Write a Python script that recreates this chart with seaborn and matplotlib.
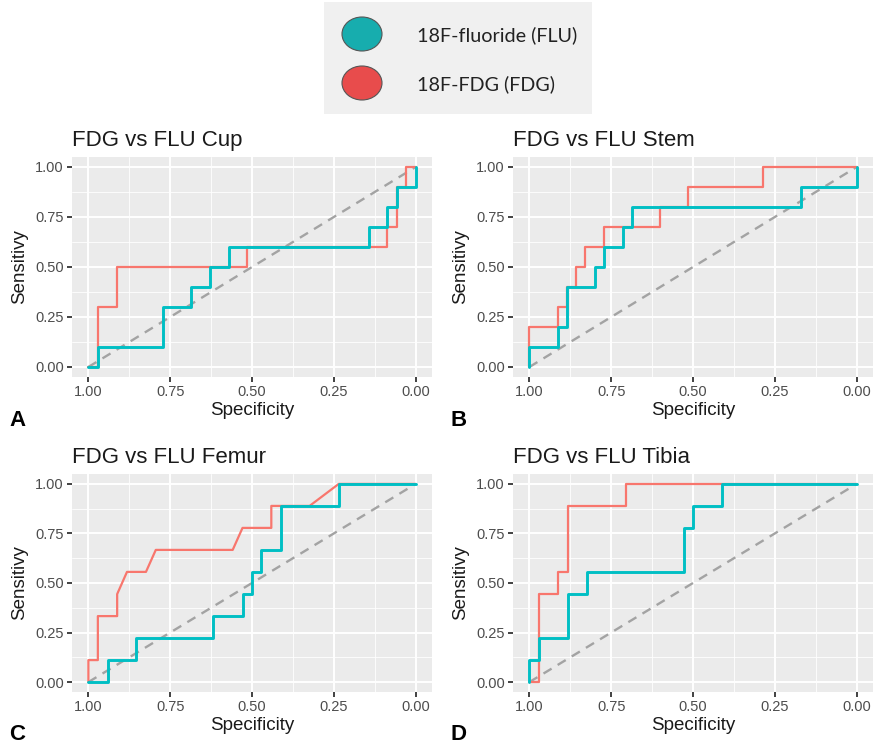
import matplotlib
matplotlib.use("Agg")
import matplotlib.pyplot as plt
from matplotlib.patches import Ellipse
import seaborn as sns
import numpy as np

# ---------------- data ----------------
titles = ["FDG vs FLU Cup", "FDG vs FLU Stem", "FDG vs FLU Femur", "FDG vs FLU Tibia"]
letters = ["A", "B", "C", "D"]
legend_labels = ["18F-fluoride (FLU)", "18F-FDG (FDG)"]
tick_values = [1.00, 0.75, 0.50, 0.25, 0.00]
tick_labels = ["1.00", "0.75", "0.50", "0.25", "0.00"]
ytick_values = [0.00, 0.25, 0.50, 0.75, 1.00]
ytick_labels = ["0.00", "0.25", "0.50", "0.75", "1.00"]
diag_spec = [1.0, 0.0]
diag_sens = [0.0, 1.0]

# Cup
cup_fdg_spec = [1, 0.971, 0.971, 0.914, 0.914, 0.514, 0.514, 0.086, 0.086, 0.057, 0.057, 0.029, 0.029, 0]
cup_fdg_sens = [0, 0, 0.3, 0.3, 0.5, 0.5, 0.6, 0.6, 0.7, 0.7, 0.9, 0.9, 1.0, 1.0]
cup_flu_spec = [1, 0.971, 0.971, 0.771, 0.771, 0.686, 0.686, 0.629, 0.629, 0.571, 0.571,
                0.143, 0.143, 0.086, 0.086, 0.057, 0.057, 0, 0]
cup_flu_sens = [0, 0, 0.1, 0.1, 0.3, 0.3, 0.4, 0.4, 0.5, 0.5, 0.6, 0.6, 0.7, 0.7, 0.8, 0.8, 0.9, 0.9, 1.0]

# Stem
stem_fdg_spec = [1, 1, 0.914, 0.914, 0.886, 0.886, 0.857, 0.857, 0.829, 0.829, 0.771, 0.771,
                 0.6, 0.6, 0.514, 0.514, 0.286, 0.286, 0]
stem_fdg_sens = [0, 0.2, 0.2, 0.3, 0.3, 0.4, 0.4, 0.5, 0.5, 0.6, 0.6, 0.7, 0.7, 0.8, 0.8, 0.9, 0.9, 1.0, 1.0]
stem_flu_spec = [1, 1, 0.914, 0.914, 0.886, 0.886, 0.8, 0.8, 0.771, 0.771, 0.714, 0.714,
                 0.686, 0.686, 0.171, 0.171, 0, 0]
stem_flu_sens = [0, 0.1, 0.1, 0.2, 0.2, 0.4, 0.4, 0.5, 0.5, 0.6, 0.6, 0.7, 0.7, 0.8, 0.8, 0.9, 0.9, 1.0]

# Femur
femur_fdg_spec = [1, 1, 0.971, 0.971, 0.912, 0.912, 0.882, 0.824, 0.794, 0.559, 0.529,
                  0.441, 0.441, 0.324, 0.235, 0]
femur_fdg_sens = [0, 0.111, 0.111, 0.333, 0.333, 0.444, 0.556, 0.556, 0.667, 0.667, 0.778,
                  0.778, 0.889, 0.889, 1.0, 1.0]
femur_flu_spec = [1, 0.941, 0.941, 0.853, 0.853, 0.618, 0.618, 0.529, 0.529, 0.5, 0.5,
                  0.471, 0.471, 0.412, 0.412, 0.235, 0.235, 0]
femur_flu_sens = [0, 0, 0.111, 0.111, 0.222, 0.222, 0.333, 0.333, 0.444, 0.444, 0.556,
                  0.556, 0.667, 0.667, 0.889, 0.889, 1.0, 1.0]

# Tibia
tibia_fdg_spec = [1, 0.971, 0.971, 0.912, 0.912, 0.882, 0.882, 0.706, 0.706, 0]
tibia_fdg_sens = [0, 0, 0.444, 0.444, 0.556, 0.556, 0.889, 0.889, 1.0, 1.0]
tibia_flu_spec = [1, 1, 0.971, 0.971, 0.882, 0.882, 0.824, 0.824, 0.529, 0.529, 0.5, 0.5,
                  0.412, 0.412, 0]
tibia_flu_sens = [0, 0.111, 0.111, 0.222, 0.222, 0.444, 0.444, 0.556, 0.556, 0.778, 0.778,
                  0.889, 0.889, 1.0, 1.0]

panels = [
    (cup_fdg_spec, cup_fdg_sens, cup_flu_spec, cup_flu_sens),
    (stem_fdg_spec, stem_fdg_sens, stem_flu_spec, stem_flu_sens),
    (femur_fdg_spec, femur_fdg_sens, femur_flu_spec, femur_flu_sens),
    (tibia_fdg_spec, tibia_fdg_sens, tibia_flu_spec, tibia_flu_sens),
]

# ---------------- style ----------------
W, H = 874, 745
sns.set_theme(style="darkgrid")
plt.rcParams["font.family"] = ["Liberation Sans", "DejaVu Sans"]

RED = "#F8766D"
CYAN = "#00BFC4"
PANEL_BG = "#EBEBEB"

fig = plt.figure(figsize=(W / 100, H / 100), dpi=100)
fig.patch.set_facecolor("white")


def rect(x0, y0, x1, y1):
    return [x0 / W, 1 - y1 / H, (x1 - x0) / W, (y1 - y0) / H]


axes_px = [
    (72, 157, 432, 377),
    (513, 157, 873, 377),
    (72, 474, 432, 692),
    (513, 474, 873, 692),
]
letter_pos = [(17, 420), (459, 420), (17, 735), (459, 735)]

for i, (fs, fe, ls, le) in enumerate(panels):
    ax = fig.add_axes(rect(*axes_px[i]))
    ax.set_facecolor(PANEL_BG)
    for s in ax.spines.values():
        s.set_visible(False)
    ax.plot(diag_spec, diag_sens, color="#A3A3A3", lw=1.7, ls=(0, (4, 3)), zorder=2)
    sns.lineplot(x=fs, y=fe, sort=False, estimator=None, color=RED, lw=1.6, ax=ax, zorder=3)
    sns.lineplot(x=ls, y=le, sort=False, estimator=None, color=CYAN, lw=2.1, ax=ax, zorder=4)
    ax.set_xlim(1.05, -0.05)
    ax.set_ylim(-0.05, 1.05)
    ax.set_xticks(tick_values)
    ax.set_xticklabels(tick_labels)
    ax.set_yticks(ytick_values)
    ax.set_yticklabels(ytick_labels)
    ax.set_xticks([0.875, 0.625, 0.375, 0.125], minor=True)
    ax.set_yticks([0.125, 0.375, 0.625, 0.875], minor=True)
    ax.grid(which="major", color="white", lw=1.4)
    ax.grid(which="minor", color="white", lw=0.6)
    ax.tick_params(which="major", length=3.5, width=1.3, color="#333333",
                   labelsize=10.5, labelcolor="#4D4D4D", pad=2.5, left=True, bottom=True)
    ax.tick_params(which="minor", length=0)
    ax.set_xlabel("Specificity", fontsize=13.5, color="#1A1A1A", labelpad=2)
    ax.set_ylabel("Sensitivy", fontsize=13.5, color="#1A1A1A", labelpad=5)
    ax.set_title(titles[i], loc="left", fontsize=16, color="#1A1A1A", pad=8)
    fig.text(letter_pos[i][0] / W, 1 - letter_pos[i][1] / H, letters[i],
             fontsize=16, fontweight="bold", ha="center", va="center", color="black")

# ---------------- legend ----------------
lax = fig.add_axes(rect(324, 2, 592, 114))
lax.set_facecolor("#F0F0F0")
for s in lax.spines.values():
    s.set_visible(False)
lax.set_xticks([])
lax.set_yticks([])
lax.grid(False)
lax.set_xlim(324, 592)
lax.set_ylim(114, 2)
legend_colors = ["#17ADAE", "#E84C4C"]
legend_y = [34, 83]
for c, yy, lab in zip(legend_colors, legend_y, legend_labels):
    lax.add_patch(Ellipse((362, yy), 40, 34, facecolor=c, edgecolor="#555555", lw=0.8))
    lax.text(417, yy + 1, lab, fontsize=14.2, va="center", ha="left", color="#222222",
             family=["Lato", "DejaVu Sans"])

fig.savefig("out.png", dpi=100)
